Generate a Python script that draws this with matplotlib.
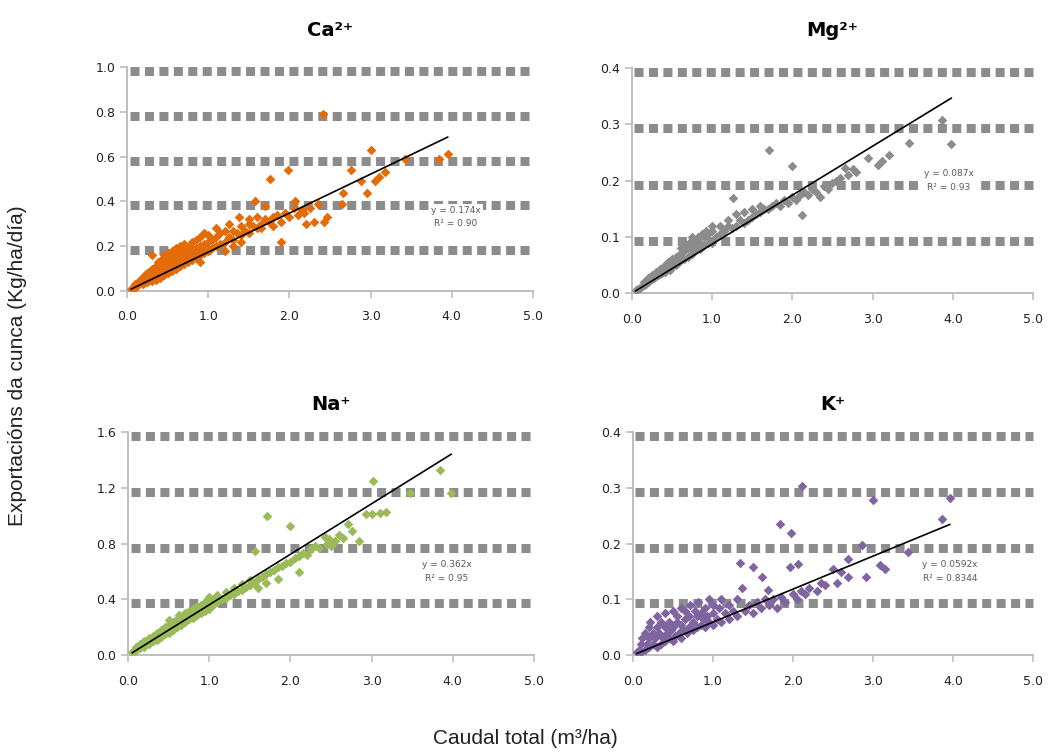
import numpy as np
import matplotlib
matplotlib.use("Agg")
import matplotlib.pyplot as plt
import matplotlib.transforms as mtransforms

# ---- data ----
ions = ["Ca²⁺", "Mg²⁺", "Na⁺", "K⁺"]
colors = ["#E36C09", "#8C8C8C", "#9BBB59", "#8064A2"]
slopes = [0.174, 0.087, 0.362, 0.0592]
r2_labels = ["0.90", "0.93", "0.95", "0.8344"]
slope_labels = ["0.174", "0.087", "0.362", "0.0592"]
y_tops = [1.0, 0.4, 1.6, 0.4]
y_steps = [0.2, 0.1, 0.4, 0.1]
label_pos = [(4.05, 0.33), (3.95, 0.20), (3.93, 0.60), (3.96, 0.15)]

ca_pts = [
    (0.05, 0.01), (0.08, 0.02), (0.1, 0.015), (0.1, 0.03), (0.12, 0.025), (0.15, 0.03), (0.15, 0.045),
    (0.18, 0.04), (0.18, 0.06), (0.2, 0.03), (0.2, 0.05), (0.22, 0.07), (0.25, 0.04), (0.25, 0.06),
    (0.25, 0.08), (0.28, 0.05), (0.28, 0.09), (0.3, 0.045), (0.3, 0.07), (0.3, 0.1), (0.3, 0.16),
    (0.33, 0.06), (0.33, 0.09), (0.35, 0.05), (0.35, 0.08), (0.35, 0.11), (0.38, 0.07), (0.38, 0.1),
    (0.38, 0.13), (0.4, 0.06), (0.4, 0.09), (0.4, 0.12), (0.42, 0.08), (0.42, 0.14), (0.45, 0.07),
    (0.45, 0.1), (0.45, 0.13), (0.45, 0.16), (0.48, 0.09), (0.48, 0.12), (0.5, 0.08), (0.5, 0.11),
    (0.5, 0.14), (0.5, 0.17), (0.53, 0.1), (0.53, 0.13), (0.55, 0.09), (0.55, 0.12), (0.55, 0.15),
    (0.55, 0.18), (0.58, 0.11), (0.58, 0.14), (0.6, 0.1), (0.6, 0.13), (0.6, 0.16), (0.6, 0.19),
    (0.63, 0.12), (0.63, 0.15), (0.65, 0.11), (0.65, 0.14), (0.65, 0.17), (0.65, 0.2), (0.68, 0.13),
    (0.7, 0.12), (0.7, 0.15), (0.7, 0.18), (0.7, 0.21), (0.73, 0.14), (0.75, 0.13), (0.75, 0.16),
    (0.75, 0.19), (0.78, 0.15), (0.78, 0.2), (0.8, 0.14), (0.8, 0.17), (0.8, 0.22), (0.83, 0.16),
    (0.85, 0.15), (0.85, 0.19), (0.85, 0.23), (0.88, 0.17), (0.9, 0.16), (0.9, 0.2), (0.9, 0.24),
    (0.93, 0.18), (0.95, 0.17), (0.95, 0.21), (0.95, 0.26), (1.0, 0.18), (1.0, 0.22), (1.0, 0.25),
    (1.05, 0.19), (1.05, 0.23), (1.1, 0.2), (1.1, 0.24), (1.1, 0.28), (1.15, 0.21), (1.15, 0.26),
    (1.2, 0.22), (1.2, 0.27), (1.25, 0.24), (1.25, 0.3), (1.3, 0.23), (1.3, 0.27), (1.35, 0.26),
    (1.38, 0.33), (1.4, 0.25), (1.4, 0.29), (1.45, 0.27), (1.5, 0.26), (1.5, 0.3), (1.5, 0.32),
    (1.55, 0.29), (1.58, 0.4), (1.6, 0.28), (1.6, 0.33), (1.65, 0.3), (1.65, 0.28), (1.7, 0.32),
    (1.7, 0.38), (1.75, 0.31), (1.76, 0.5), (1.8, 0.33), (1.8, 0.29), (1.85, 0.34), (1.9, 0.22),
    (1.9, 0.31), (1.95, 0.35), (1.98, 0.54), (2.0, 0.33), (2.05, 0.37), (2.07, 0.4), (2.1, 0.34),
    (2.15, 0.36), (2.18, 0.35), (2.2, 0.3), (2.25, 0.37), (2.3, 0.31), (2.35, 0.39), (2.41, 0.79),
    (2.42, 0.31), (2.46, 0.33), (2.65, 0.39), (2.66, 0.44), (2.76, 0.54), (2.88, 0.49), (2.96, 0.44),
    (3.0, 0.63), (3.05, 0.49), (3.1, 0.51), (3.18, 0.53), (3.43, 0.59), (3.84, 0.59), (3.95, 0.61),
    (1.3, 0.2), (1.2, 0.18), (0.9, 0.13), (1.4, 0.22),
]

mg_pts = [
    (0.05, 0.005), (0.08, 0.008), (0.1, 0.01), (0.12, 0.012), (0.15, 0.015), (0.15, 0.02), (0.18, 0.017),
    (0.2, 0.02), (0.2, 0.027), (0.22, 0.022), (0.25, 0.025), (0.25, 0.032), (0.28, 0.028), (0.3, 0.03),
    (0.3, 0.037), (0.33, 0.032), (0.35, 0.035), (0.35, 0.043), (0.38, 0.036), (0.4, 0.04), (0.4, 0.048),
    (0.42, 0.038), (0.45, 0.045), (0.45, 0.055), (0.48, 0.042), (0.5, 0.048), (0.5, 0.06), (0.52, 0.05),
    (0.55, 0.05), (0.55, 0.065), (0.58, 0.055), (0.6, 0.058), (0.6, 0.07), (0.62, 0.08), (0.65, 0.06),
    (0.65, 0.075), (0.68, 0.085), (0.7, 0.065), (0.7, 0.08), (0.72, 0.09), (0.75, 0.07), (0.75, 0.085),
    (0.75, 0.1), (0.78, 0.075), (0.8, 0.08), (0.8, 0.095), (0.83, 0.1), (0.85, 0.078), (0.85, 0.09),
    (0.88, 0.105), (0.9, 0.085), (0.9, 0.1), (0.93, 0.11), (0.95, 0.09), (0.95, 0.105), (1.0, 0.09),
    (1.0, 0.11), (1.0, 0.12), (1.05, 0.1), (1.1, 0.105), (1.1, 0.12), (1.15, 0.11), (1.2, 0.12),
    (1.2, 0.13), (1.25, 0.115), (1.26, 0.169), (1.3, 0.12), (1.3, 0.14), (1.35, 0.13), (1.4, 0.125),
    (1.4, 0.145), (1.45, 0.13), (1.5, 0.135), (1.5, 0.15), (1.55, 0.14), (1.6, 0.145), (1.6, 0.155),
    (1.65, 0.15), (1.7, 0.15), (1.71, 0.255), (1.75, 0.155), (1.8, 0.16), (1.85, 0.155), (1.9, 0.165),
    (1.95, 0.16), (2.0, 0.17), (2.0, 0.226), (2.05, 0.165), (2.1, 0.175), (2.12, 0.139), (2.15, 0.18),
    (2.2, 0.175), (2.25, 0.185), (2.3, 0.18), (2.35, 0.17), (2.4, 0.19), (2.45, 0.185), (2.5, 0.195),
    (2.55, 0.2), (2.6, 0.205), (2.66, 0.222), (2.7, 0.21), (2.76, 0.22), (2.8, 0.215), (2.94, 0.24),
    (3.07, 0.228), (3.12, 0.235), (3.21, 0.246), (3.46, 0.267), (3.86, 0.297), (3.87, 0.308),
    (3.98, 0.265),
]

na_pts = [
    (0.05, 0.02), (0.08, 0.03), (0.1, 0.04), (0.1, 0.06), (0.12, 0.05), (0.15, 0.05), (0.15, 0.08),
    (0.18, 0.07), (0.2, 0.06), (0.2, 0.1), (0.22, 0.09), (0.25, 0.08), (0.25, 0.12), (0.28, 0.1),
    (0.3, 0.1), (0.3, 0.14), (0.33, 0.12), (0.35, 0.11), (0.35, 0.16), (0.38, 0.14), (0.4, 0.13),
    (0.4, 0.18), (0.42, 0.16), (0.45, 0.15), (0.45, 0.2), (0.48, 0.18), (0.5, 0.16), (0.5, 0.22),
    (0.5, 0.25), (0.53, 0.2), (0.55, 0.18), (0.55, 0.24), (0.58, 0.22), (0.6, 0.2), (0.6, 0.26),
    (0.62, 0.29), (0.65, 0.22), (0.65, 0.27), (0.68, 0.25), (0.7, 0.24), (0.7, 0.3), (0.72, 0.27),
    (0.75, 0.26), (0.75, 0.32), (0.78, 0.29), (0.8, 0.27), (0.8, 0.33), (0.83, 0.31), (0.85, 0.29),
    (0.85, 0.35), (0.88, 0.33), (0.9, 0.3), (0.9, 0.36), (0.93, 0.34), (0.95, 0.32), (0.95, 0.38),
    (1.0, 0.33), (1.0, 0.38), (1.0, 0.42), (1.05, 0.36), (1.05, 0.4), (1.1, 0.38), (1.1, 0.43),
    (1.15, 0.4), (1.2, 0.41), (1.2, 0.45), (1.25, 0.43), (1.3, 0.44), (1.3, 0.48), (1.35, 0.46),
    (1.4, 0.47), (1.4, 0.51), (1.45, 0.49), (1.5, 0.5), (1.5, 0.54), (1.56, 0.75), (1.55, 0.52),
    (1.6, 0.48), (1.6, 0.55), (1.65, 0.56), (1.7, 0.58), (1.71, 0.995), (1.75, 0.6), (1.8, 0.61),
    (1.85, 0.63), (1.9, 0.64), (1.95, 0.66), (2.0, 0.67), (2.0, 0.93), (2.05, 0.7), (2.1, 0.71),
    (2.11, 0.6), (2.15, 0.73), (2.2, 0.72), (2.25, 0.76), (2.3, 0.78), (2.35, 0.77), (2.42, 0.85),
    (2.45, 0.8), (2.48, 0.83), (2.5, 0.78), (2.55, 0.82), (2.6, 0.86), (2.65, 0.84), (2.71, 0.94),
    (2.76, 0.89), (2.85, 0.82), (2.93, 1.01), (3.0, 1.01), (3.02, 1.25), (3.1, 1.02), (3.18, 1.03),
    (3.47, 1.16), (3.84, 1.33), (3.98, 1.16), (1.85, 0.55), (1.7, 0.52),
]

k_pts = [
    (0.05, 0.005), (0.08, 0.01), (0.1, 0.005), (0.1, 0.02), (0.12, 0.03), (0.15, 0.01), (0.15, 0.04),
    (0.18, 0.02), (0.2, 0.015), (0.2, 0.03), (0.2, 0.05), (0.22, 0.06), (0.25, 0.02), (0.25, 0.04),
    (0.28, 0.03), (0.3, 0.015), (0.3, 0.05), (0.3, 0.07), (0.33, 0.04), (0.35, 0.02), (0.35, 0.06),
    (0.38, 0.03), (0.4, 0.025), (0.4, 0.05), (0.4, 0.075), (0.43, 0.04), (0.45, 0.03), (0.45, 0.06),
    (0.48, 0.045), (0.5, 0.025), (0.5, 0.05), (0.5, 0.08), (0.53, 0.035), (0.55, 0.06), (0.55, 0.07),
    (0.58, 0.04), (0.6, 0.03), (0.6, 0.055), (0.6, 0.085), (0.63, 0.045), (0.65, 0.065), (0.65, 0.08),
    (0.68, 0.04), (0.7, 0.05), (0.7, 0.07), (0.72, 0.09), (0.75, 0.045), (0.75, 0.06), (0.78, 0.08),
    (0.8, 0.05), (0.8, 0.07), (0.82, 0.095), (0.85, 0.055), (0.85, 0.075), (0.88, 0.065), (0.9, 0.05),
    (0.9, 0.085), (0.93, 0.07), (0.95, 0.06), (0.95, 0.1), (1.0, 0.055), (1.0, 0.075), (1.0, 0.09),
    (1.05, 0.065), (1.08, 0.085), (1.1, 0.06), (1.1, 0.1), (1.15, 0.075), (1.2, 0.065), (1.2, 0.09),
    (1.25, 0.08), (1.3, 0.07), (1.3, 0.1), (1.34, 0.166), (1.36, 0.12), (1.4, 0.08), (1.45, 0.09),
    (1.5, 0.075), (1.5, 0.158), (1.55, 0.095), (1.6, 0.085), (1.62, 0.14), (1.65, 0.1), (1.69, 0.117),
    (1.7, 0.09), (1.75, 0.1), (1.8, 0.085), (1.84, 0.236), (1.85, 0.105), (1.9, 0.095), (1.96, 0.158),
    (1.98, 0.219), (2.0, 0.11), (2.05, 0.1), (2.06, 0.163), (2.1, 0.115), (2.11, 0.304), (2.15, 0.11),
    (2.2, 0.12), (2.3, 0.115), (2.35, 0.13), (2.4, 0.125), (2.5, 0.155), (2.55, 0.13), (2.6, 0.15),
    (2.69, 0.14), (2.69, 0.173), (2.86, 0.197), (2.91, 0.141), (3.0, 0.278), (3.09, 0.162),
    (3.15, 0.155), (3.44, 0.185), (3.86, 0.245), (3.96, 0.282),
]

all_pts = [ca_pts, mg_pts, na_pts, k_pts]

# axes boxes in figure fraction (left, bottom, width, height)
boxes = [
    (0.121, 0.614, 0.386, 0.297),
    (0.601, 0.611, 0.382, 0.299),
    (0.122, 0.131, 0.386, 0.296),
    (0.602, 0.131, 0.381, 0.296),
]

fig = plt.figure(figsize=(10.51, 7.54), dpi=100)

for i in range(4):
    ax = fig.add_axes(boxes[i])
    pts = np.array(all_pts[i])
    ymax = y_tops[i]
    ticks = np.arange(0, ymax + y_steps[i] / 2, y_steps[i])

    # thick dashed gridlines, nudged a few pixels below the tick like the original
    shift = mtransforms.ScaledTranslation(0, -4 / 100, fig.dpi_scale_trans)
    for t in ticks[1:]:
        ax.plot([0.03, 5.0], [t, t], color="#8C8C8C", lw=6.5, ls=(0, (1.0, 0.6)),
                transform=ax.transData + shift, clip_on=False, zorder=1,
                dash_capstyle="butt")

    ax.scatter(pts[:, 0], pts[:, 1], marker="D", s=24, color=colors[i], lw=0, zorder=3)

    xr = np.array([pts[:, 0].min(), pts[:, 0].max()])
    ax.plot(xr, slopes[i] * xr, color="black", lw=1.2, zorder=4)

    lx, ly = label_pos[i]
    ax.text(lx, ly, f"y = {slope_labels[i]}x\nR² = {r2_labels[i]}", ha="center", va="center",
            fontsize=6.5, color="#595959", linespacing=1.6, zorder=5,
            bbox=dict(facecolor="white", edgecolor="none", pad=1.5))

    ax.set_xlim(0, 5)
    ax.set_ylim(0, ymax)
    ax.set_xticks(np.arange(0, 5.01, 1.0))
    ax.set_yticks(ticks)
    ax.xaxis.set_major_formatter(plt.FormatStrFormatter("%.1f"))
    ax.yaxis.set_major_formatter(plt.FormatStrFormatter("%.1f"))
    ax.tick_params(axis="both", length=5, width=1.2, color="#BFBFBF", labelsize=9,
                   labelcolor="#222222", direction="out")
    ax.tick_params(axis="x", pad=9)
    for side in ["top", "right"]:
        ax.spines[side].set_visible(False)
    for side in ["left", "bottom"]:
        ax.spines[side].set_color("#BFBFBF")
        ax.spines[side].set_linewidth(1.4)

    b = boxes[i]
    title_y = 0.96 if i < 2 else 0.463
    fig.text(b[0] + b[2] / 2, title_y, ions[i], ha="center", va="center",
             fontsize=14, fontweight="bold", family="DejaVu Sans")

fig.text(0.017, 0.515, "Exportacións da cunca (Kg/ha/día)", rotation=90, ha="center", va="center",
         fontsize=15, family="Liberation Sans", color="#222222")
fig.text(0.5, 0.02, "Caudal total (m³/ha)", ha="center", va="center",
         fontsize=15, family="Liberation Sans", color="#222222")

fig.savefig("out.png", dpi=100)
